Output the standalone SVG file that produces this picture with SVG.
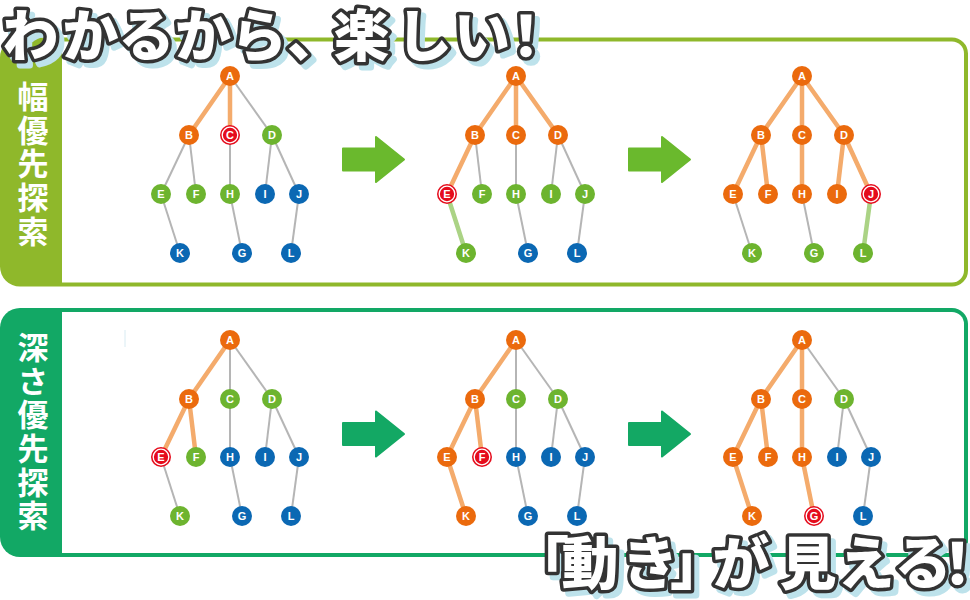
<svg xmlns="http://www.w3.org/2000/svg" xmlns:xlink="http://www.w3.org/1999/xlink" width="970" height="600" viewBox="0 0 970 600">
<style>
.eo{stroke:#f4ab6c;stroke-width:4.5;stroke-linecap:round}
.eg{stroke:#b5b5b5;stroke-width:2}
.el{stroke:#abd385;stroke-width:4.5;stroke-linecap:round}
.o circle{fill:#eb6a0d}
.g circle{fill:#6db42f}
.b circle{fill:#0b68b3}
.r circle{fill:#e50c1c}
.r circle.ring{fill:none;stroke:#fff;stroke-width:1.3}
.n text{font-family:"Liberation Sans",Arial,sans-serif;font-weight:bold;font-size:11px;fill:#fff;text-anchor:middle}
.vt{font-family:"Noto Sans CJK JP",sans-serif;font-weight:bold;font-size:31px;fill:#fff;writing-mode:vertical-rl;letter-spacing:2.6px}
.arw1{fill:#6ab92d;stroke:#6ab92d;stroke-width:2;stroke-linejoin:round}
.arw2{fill:#13a864;stroke:#13a864;stroke-width:2;stroke-linejoin:round}
.sh{fill:#bde2eb;stroke:#bde2eb;stroke-width:7;stroke-linejoin:round}
.ol{fill:#fff;stroke:#333;stroke-width:7;stroke-linejoin:round}
.wf{fill:#fff}
</style>
<defs>
<text id="t1" x="2.5 62.5 118.5 175 231 287 333.5 396 454 498" y="55.5" font-family="'Noto Sans CJK JP',sans-serif" font-weight="900" font-size="56">わかるから、楽しい！</text>
<text id="t2" x="512 561.5 621.5 670 712.5 779.5 837.5 894.5 929" y="584" font-family="'Noto Sans CJK JP',sans-serif" font-weight="900" font-size="57">「動き」が見える！</text>
</defs>

<g id="panel-bfs">
<path d="M20,37.5 H952 A16,16 0 0 1 968,53.5 V270.5 A16,16 0 0 1 952,286.5 H20 A20,20 0 0 1 0,266.5 V57.5 A20,20 0 0 1 20,37.5 Z" fill="#8fb82b"/>
<path d="M62,41.5 H952 A12,12 0 0 1 964,53.5 V270.5 A12,12 0 0 1 952,282.5 H62 Z" fill="#fff"/>
<text class="vt" x="33" y="81">幅優先探索</text>
</g>
<g id="panel-dfs">
<path d="M20,308 H952 A16,16 0 0 1 968,324 V541 A16,16 0 0 1 952,557 H20 A20,20 0 0 1 0,537 V328 A20,20 0 0 1 20,308 Z" fill="#12a865"/>
<path d="M62,312 H952 A12,12 0 0 1 964,324 V541 A12,12 0 0 1 952,553 H62 Z" fill="#fff"/>
<line x1="125" y1="330" x2="125" y2="347" stroke="#d8ebf2" stroke-width="1"/>
<text class="vt" x="33" y="332">深さ優先探索</text>
</g>

<g id="arrows">
<path class="arw1" d="M343,148.5 H376 V137 L404,159.5 L376,182 V170.5 H343 Z"/>
<path class="arw1" d="M629,148.5 H662 V137 L690,159.5 L662,182 V170.5 H629 Z"/>
<path class="arw2" d="M343,423 H376 V411.5 L404,434 L376,456.5 V445 H343 Z"/>
<path class="arw2" d="M629,423 H662 V411.5 L690,434 L662,456.5 V445 H629 Z"/>
</g>

<g id="connectors">
<!-- b1 -->
<line class="eo" x1="230" y1="76" x2="189" y2="135"/>
<line class="eo" x1="230" y1="76" x2="230" y2="135"/>
<line class="eg" x1="230" y1="76" x2="272" y2="135"/>
<line class="eg" x1="189" y1="135" x2="161" y2="194"/>
<line class="eg" x1="189" y1="135" x2="196" y2="194"/>
<line class="eg" x1="230" y1="135" x2="230" y2="194"/>
<line class="eg" x1="272" y1="135" x2="265" y2="194"/>
<line class="eg" x1="272" y1="135" x2="299" y2="194"/>
<line class="eg" x1="161" y1="194" x2="180" y2="253"/>
<line class="eg" x1="230" y1="194" x2="242" y2="253"/>
<line class="eg" x1="299" y1="194" x2="291" y2="253"/>
<!-- b2 -->
<line class="eo" x1="516" y1="76" x2="475" y2="135"/>
<line class="eo" x1="516" y1="76" x2="516" y2="135"/>
<line class="eo" x1="516" y1="76" x2="558" y2="135"/>
<line class="eo" x1="475" y1="135" x2="447" y2="194"/>
<line class="eg" x1="475" y1="135" x2="482" y2="194"/>
<line class="eg" x1="516" y1="135" x2="516" y2="194"/>
<line class="eg" x1="558" y1="135" x2="551" y2="194"/>
<line class="eg" x1="558" y1="135" x2="585" y2="194"/>
<line class="el" x1="447" y1="194" x2="466" y2="253"/>
<line class="eg" x1="516" y1="194" x2="528" y2="253"/>
<line class="eg" x1="585" y1="194" x2="577" y2="253"/>
<!-- b3 -->
<line class="eo" x1="802" y1="76" x2="761" y2="135"/>
<line class="eo" x1="802" y1="76" x2="802" y2="135"/>
<line class="eo" x1="802" y1="76" x2="844" y2="135"/>
<line class="eo" x1="761" y1="135" x2="733" y2="194"/>
<line class="eo" x1="761" y1="135" x2="768" y2="194"/>
<line class="eo" x1="802" y1="135" x2="802" y2="194"/>
<line class="eo" x1="844" y1="135" x2="837" y2="194"/>
<line class="eo" x1="844" y1="135" x2="871" y2="194"/>
<line class="eg" x1="733" y1="194" x2="752" y2="253"/>
<line class="eg" x1="802" y1="194" x2="814" y2="253"/>
<line class="el" x1="871" y1="194" x2="863" y2="253"/>
<!-- d1 -->
<line class="eo" x1="230" y1="340" x2="189" y2="399"/>
<line class="eg" x1="230" y1="340" x2="230" y2="399"/>
<line class="eg" x1="230" y1="340" x2="272" y2="399"/>
<line class="eo" x1="189" y1="399" x2="161" y2="457"/>
<line class="eo" x1="189" y1="399" x2="196" y2="457"/>
<line class="eg" x1="230" y1="399" x2="230" y2="457"/>
<line class="eg" x1="272" y1="399" x2="265" y2="457"/>
<line class="eg" x1="272" y1="399" x2="299" y2="457"/>
<line class="eg" x1="161" y1="457" x2="180" y2="516"/>
<line class="eg" x1="230" y1="457" x2="242" y2="516"/>
<line class="eg" x1="299" y1="457" x2="291" y2="516"/>
<!-- d2 -->
<line class="eo" x1="516" y1="340" x2="475" y2="399"/>
<line class="eg" x1="516" y1="340" x2="516" y2="399"/>
<line class="eg" x1="516" y1="340" x2="558" y2="399"/>
<line class="eo" x1="475" y1="399" x2="447" y2="457"/>
<line class="eo" x1="475" y1="399" x2="482" y2="457"/>
<line class="eg" x1="516" y1="399" x2="516" y2="457"/>
<line class="eg" x1="558" y1="399" x2="551" y2="457"/>
<line class="eg" x1="558" y1="399" x2="585" y2="457"/>
<line class="eo" x1="447" y1="457" x2="466" y2="516"/>
<line class="eg" x1="516" y1="457" x2="528" y2="516"/>
<line class="eg" x1="585" y1="457" x2="577" y2="516"/>
<!-- d3 -->
<line class="eo" x1="802" y1="340" x2="761" y2="399"/>
<line class="eo" x1="802" y1="340" x2="802" y2="399"/>
<line class="eg" x1="802" y1="340" x2="844" y2="399"/>
<line class="eo" x1="761" y1="399" x2="733" y2="457"/>
<line class="eo" x1="761" y1="399" x2="768" y2="457"/>
<line class="eo" x1="802" y1="399" x2="802" y2="457"/>
<line class="eg" x1="844" y1="399" x2="837" y2="457"/>
<line class="eg" x1="844" y1="399" x2="871" y2="457"/>
<line class="eo" x1="733" y1="457" x2="752" y2="516"/>
<line class="eo" x1="802" y1="457" x2="814" y2="516"/>
<line class="eg" x1="871" y1="457" x2="863" y2="516"/>
</g>

<!-- BFS tree 1 -->
<g id="b1-A" class="n o" transform="translate(230,76)"><circle r="10"/><text y="4">A</text></g>
<g id="b1-B" class="n o" transform="translate(189,135)"><circle r="10"/><text y="4">B</text></g>
<g id="b1-C" class="n r" transform="translate(230,135)"><circle r="10"/><circle class="ring" r="7.8"/><text y="4">C</text></g>
<g id="b1-D" class="n g" transform="translate(272,135)"><circle r="10"/><text y="4">D</text></g>
<g id="b1-E" class="n g" transform="translate(161,194)"><circle r="10"/><text y="4">E</text></g>
<g id="b1-F" class="n g" transform="translate(196,194)"><circle r="10"/><text y="4">F</text></g>
<g id="b1-H" class="n g" transform="translate(230,194)"><circle r="10"/><text y="4">H</text></g>
<g id="b1-I" class="n b" transform="translate(265,194)"><circle r="10"/><text y="4">I</text></g>
<g id="b1-J" class="n b" transform="translate(299,194)"><circle r="10"/><text y="4">J</text></g>
<g id="b1-K" class="n b" transform="translate(180,253)"><circle r="10"/><text y="4">K</text></g>
<g id="b1-G" class="n b" transform="translate(242,253)"><circle r="10"/><text y="4">G</text></g>
<g id="b1-L" class="n b" transform="translate(291,253)"><circle r="10"/><text y="4">L</text></g>
<!-- BFS tree 2 -->
<g id="b2-A" class="n o" transform="translate(516,76)"><circle r="10"/><text y="4">A</text></g>
<g id="b2-B" class="n o" transform="translate(475,135)"><circle r="10"/><text y="4">B</text></g>
<g id="b2-C" class="n o" transform="translate(516,135)"><circle r="10"/><text y="4">C</text></g>
<g id="b2-D" class="n o" transform="translate(558,135)"><circle r="10"/><text y="4">D</text></g>
<g id="b2-E" class="n r" transform="translate(447,194)"><circle r="10"/><circle class="ring" r="7.8"/><text y="4">E</text></g>
<g id="b2-F" class="n g" transform="translate(482,194)"><circle r="10"/><text y="4">F</text></g>
<g id="b2-H" class="n g" transform="translate(516,194)"><circle r="10"/><text y="4">H</text></g>
<g id="b2-I" class="n g" transform="translate(551,194)"><circle r="10"/><text y="4">I</text></g>
<g id="b2-J" class="n g" transform="translate(585,194)"><circle r="10"/><text y="4">J</text></g>
<g id="b2-K" class="n g" transform="translate(466,253)"><circle r="10"/><text y="4">K</text></g>
<g id="b2-G" class="n b" transform="translate(528,253)"><circle r="10"/><text y="4">G</text></g>
<g id="b2-L" class="n b" transform="translate(577,253)"><circle r="10"/><text y="4">L</text></g>
<!-- BFS tree 3 -->
<g id="b3-A" class="n o" transform="translate(802,76)"><circle r="10"/><text y="4">A</text></g>
<g id="b3-B" class="n o" transform="translate(761,135)"><circle r="10"/><text y="4">B</text></g>
<g id="b3-C" class="n o" transform="translate(802,135)"><circle r="10"/><text y="4">C</text></g>
<g id="b3-D" class="n o" transform="translate(844,135)"><circle r="10"/><text y="4">D</text></g>
<g id="b3-E" class="n o" transform="translate(733,194)"><circle r="10"/><text y="4">E</text></g>
<g id="b3-F" class="n o" transform="translate(768,194)"><circle r="10"/><text y="4">F</text></g>
<g id="b3-H" class="n o" transform="translate(802,194)"><circle r="10"/><text y="4">H</text></g>
<g id="b3-I" class="n o" transform="translate(837,194)"><circle r="10"/><text y="4">I</text></g>
<g id="b3-J" class="n r" transform="translate(871,194)"><circle r="10"/><circle class="ring" r="7.8"/><text y="4">J</text></g>
<g id="b3-K" class="n g" transform="translate(752,253)"><circle r="10"/><text y="4">K</text></g>
<g id="b3-G" class="n g" transform="translate(814,253)"><circle r="10"/><text y="4">G</text></g>
<g id="b3-L" class="n g" transform="translate(863,253)"><circle r="10"/><text y="4">L</text></g>
<!-- DFS tree 1 -->
<g id="d1-A" class="n o" transform="translate(230,340)"><circle r="10"/><text y="4">A</text></g>
<g id="d1-B" class="n o" transform="translate(189,399)"><circle r="10"/><text y="4">B</text></g>
<g id="d1-C" class="n g" transform="translate(230,399)"><circle r="10"/><text y="4">C</text></g>
<g id="d1-D" class="n g" transform="translate(272,399)"><circle r="10"/><text y="4">D</text></g>
<g id="d1-E" class="n r" transform="translate(161,457)"><circle r="10"/><circle class="ring" r="7.8"/><text y="4">E</text></g>
<g id="d1-F" class="n g" transform="translate(196,457)"><circle r="10"/><text y="4">F</text></g>
<g id="d1-H" class="n b" transform="translate(230,457)"><circle r="10"/><text y="4">H</text></g>
<g id="d1-I" class="n b" transform="translate(265,457)"><circle r="10"/><text y="4">I</text></g>
<g id="d1-J" class="n b" transform="translate(299,457)"><circle r="10"/><text y="4">J</text></g>
<g id="d1-K" class="n g" transform="translate(180,516)"><circle r="10"/><text y="4">K</text></g>
<g id="d1-G" class="n b" transform="translate(242,516)"><circle r="10"/><text y="4">G</text></g>
<g id="d1-L" class="n b" transform="translate(291,516)"><circle r="10"/><text y="4">L</text></g>
<!-- DFS tree 2 -->
<g id="d2-A" class="n o" transform="translate(516,340)"><circle r="10"/><text y="4">A</text></g>
<g id="d2-B" class="n o" transform="translate(475,399)"><circle r="10"/><text y="4">B</text></g>
<g id="d2-C" class="n g" transform="translate(516,399)"><circle r="10"/><text y="4">C</text></g>
<g id="d2-D" class="n g" transform="translate(558,399)"><circle r="10"/><text y="4">D</text></g>
<g id="d2-E" class="n o" transform="translate(447,457)"><circle r="10"/><text y="4">E</text></g>
<g id="d2-F" class="n r" transform="translate(482,457)"><circle r="10"/><circle class="ring" r="7.8"/><text y="4">F</text></g>
<g id="d2-H" class="n b" transform="translate(516,457)"><circle r="10"/><text y="4">H</text></g>
<g id="d2-I" class="n b" transform="translate(551,457)"><circle r="10"/><text y="4">I</text></g>
<g id="d2-J" class="n b" transform="translate(585,457)"><circle r="10"/><text y="4">J</text></g>
<g id="d2-K" class="n o" transform="translate(466,516)"><circle r="10"/><text y="4">K</text></g>
<g id="d2-G" class="n b" transform="translate(528,516)"><circle r="10"/><text y="4">G</text></g>
<g id="d2-L" class="n b" transform="translate(577,516)"><circle r="10"/><text y="4">L</text></g>
<!-- DFS tree 3 -->
<g id="d3-A" class="n o" transform="translate(802,340)"><circle r="10"/><text y="4">A</text></g>
<g id="d3-B" class="n o" transform="translate(761,399)"><circle r="10"/><text y="4">B</text></g>
<g id="d3-C" class="n o" transform="translate(802,399)"><circle r="10"/><text y="4">C</text></g>
<g id="d3-D" class="n g" transform="translate(844,399)"><circle r="10"/><text y="4">D</text></g>
<g id="d3-E" class="n o" transform="translate(733,457)"><circle r="10"/><text y="4">E</text></g>
<g id="d3-F" class="n o" transform="translate(768,457)"><circle r="10"/><text y="4">F</text></g>
<g id="d3-H" class="n o" transform="translate(802,457)"><circle r="10"/><text y="4">H</text></g>
<g id="d3-I" class="n b" transform="translate(837,457)"><circle r="10"/><text y="4">I</text></g>
<g id="d3-J" class="n b" transform="translate(871,457)"><circle r="10"/><text y="4">J</text></g>
<g id="d3-K" class="n o" transform="translate(752,516)"><circle r="10"/><text y="4">K</text></g>
<g id="d3-G" class="n r" transform="translate(814,516)"><circle r="10"/><circle class="ring" r="7.8"/><text y="4">G</text></g>
<g id="d3-L" class="n b" transform="translate(863,516)"><circle r="10"/><text y="4">L</text></g>

<g id="title-top">
<use xlink:href="#t1" class="sh" transform="translate(5,5)"/>
<use xlink:href="#t1" class="ol"/>
<use xlink:href="#t1" class="wf"/>
</g>
<g id="title-bottom">
<use xlink:href="#t2" class="sh" transform="translate(5,5)"/>
<use xlink:href="#t2" class="ol"/>
<use xlink:href="#t2" class="wf"/>
</g>
</svg>
